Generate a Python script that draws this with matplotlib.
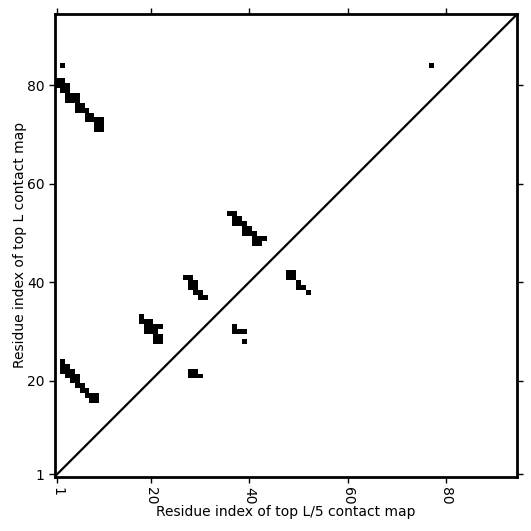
"""Contact map: top L contacts above the diagonal, top L/5 below it."""
import numpy as np
from matplotlib import pyplot as plt

seq_len = 94

# (x, y) residue numbers, 1-based, as they appear on the plot
top_l_pairs = [
    (2, 84), (77, 84),
    # N-terminal strand vs 71-81
    (1, 81), (2, 81), (1, 80), (2, 80), (3, 80), (2, 79), (3, 79),
    (3, 78), (4, 78), (5, 78), (3, 77), (4, 77), (5, 77),
    (5, 76), (6, 76), (5, 75), (6, 75), (7, 75), (7, 74), (8, 74),
    (7, 73), (8, 73), (9, 73), (10, 73), (9, 72), (10, 72),
    (9, 71), (10, 71),
    # N-terminal strand vs 16-24
    (2, 24), (2, 23), (3, 23), (2, 22), (3, 22), (4, 22),
    (3, 21), (4, 21), (5, 21), (4, 20), (5, 20), (5, 19), (6, 19),
    (6, 18), (7, 18), (7, 17), (8, 17), (9, 17), (8, 16), (9, 16),
    # 18-22 vs 28-33
    (18, 33), (18, 32), (19, 32), (20, 32), (19, 31), (20, 31),
    (21, 31), (22, 31), (19, 30), (20, 30), (21, 30),
    (21, 29), (22, 29), (21, 28), (22, 28),
    # 27-31 vs 37-41
    (27, 41), (28, 41), (28, 40), (29, 40), (28, 39), (29, 39),
    (29, 38), (30, 38), (30, 37), (31, 37),
    # 36-43 vs 48-54
    (36, 54), (37, 54), (37, 53), (38, 53), (37, 52), (38, 52),
    (39, 52), (39, 51), (40, 51), (39, 50), (40, 50), (41, 50),
    (41, 49), (42, 49), (43, 49), (41, 48), (42, 48),
]

top_l5_pairs = [
    (48, 42), (49, 42), (48, 41), (49, 41), (50, 40), (50, 39),
    (51, 39), (52, 38),
    (37, 31), (37, 30), (38, 30), (39, 30), (39, 28),
    (28, 22), (29, 22), (28, 21), (29, 21), (30, 21),
]

tick_values = [1, 20, 40, 60, 80]

cmap_grid = np.zeros((seq_len, seq_len))
for x, y in top_l_pairs + top_l5_pairs:
    cmap_grid[y - 1, x - 1] = 1

fig = plt.figure(figsize=(5.31, 5.31), dpi=100)
ax = fig.add_axes([0.1032, 0.1026, 0.871, 0.871])
ax.imshow(cmap_grid, cmap='Greys', origin='lower', interpolation='nearest',
          vmin=0, vmax=1, aspect='auto')
ax.plot([-0.5, seq_len - 0.5], [-0.5, seq_len - 0.5], color='black', lw=1.6)
ax.set_xlim(-0.5, seq_len - 0.5)
ax.set_ylim(-0.5, seq_len - 0.5)

positions = [v - 1 for v in tick_values]
ax.set_xticks(positions)
ax.set_xticklabels([str(v) for v in tick_values], rotation=270)
ax.set_yticks(positions)
ax.set_yticklabels([str(v) for v in tick_values])
ax.tick_params(top=True, right=True, direction='out', length=4, width=1)
for spine in ax.spines.values():
    spine.set_linewidth(2)

ax.set_xlabel("Residue index of top L/5 contact map", labelpad=0)
ax.set_ylabel("Residue index of top L contact map", labelpad=0)

fig.savefig('out.png', dpi=100)
